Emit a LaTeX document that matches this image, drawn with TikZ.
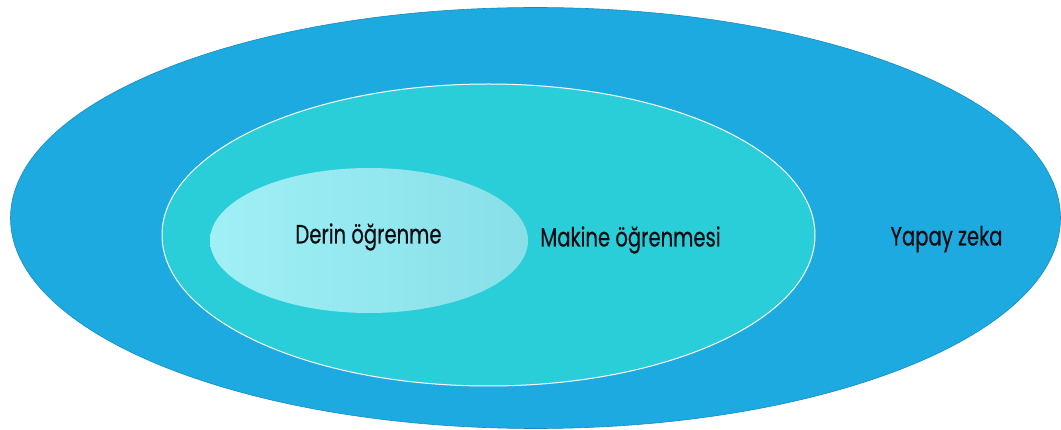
\documentclass[tikz,border=0pt]{standalone}
\usepackage{fontspec}
\setmainfont[FakeStretch=0.74, FakeBold=0.4]{Poppins}
\usetikzlibrary{shapes.geometric}

\definecolor{aiblue}{RGB}{29,170,224}
\definecolor{aiedge}{RGB}{22,140,190}
\definecolor{mlcyan}{RGB}{41,206,216}
\definecolor{dllight}{RGB}{160,240,246}
\definecolor{dldark}{RGB}{136,223,232}
\definecolor{txt}{RGB}{10,14,18}

\begin{document}
\begin{tikzpicture}[
    x=1pt, y=-1pt,
    oval/.style={ellipse, inner sep=0pt},
    outer/.style={oval, fill=aiblue, draw=aiedge, line width=0.6pt},
    middle/.style={oval, fill=mlcyan, draw=white, line width=1pt},
    inner/.style={oval, left color=dllight, right color=dldark},
    lbl/.style={font=\fontsize{26.5}{30}\selectfont, text=txt, anchor=base, inner sep=0pt},
]
\useasboundingbox (0,0) rectangle (1061,430);

% nested sets
\node[outer, minimum width=1050pt, minimum height=421pt] (ai) at (535.5,218) {};
\node[middle, minimum width=653pt, minimum height=302pt] (ml) at (488.5,235) {};
\node[inner, minimum width=318pt, minimum height=145pt] (dl) at (369,240.5) {};

% labels
\node[lbl] (dl_lbl) at (368.5,243.5) {Derin öğrenme};
\node[lbl] (ml_lbl) at (630.5,246.5) {Makine öğrenmesi};
\node[lbl] (ai_lbl) at (946.5,245.5) {Yapay zeka};

\end{tikzpicture}
\end{document}
